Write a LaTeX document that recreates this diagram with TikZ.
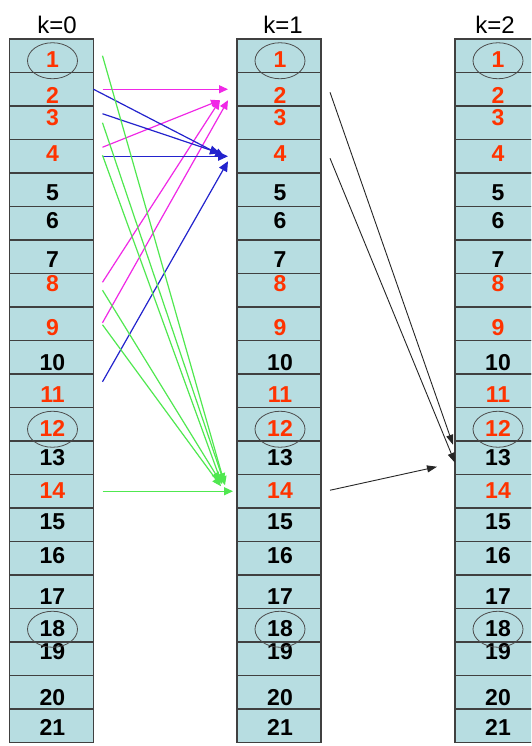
\documentclass[tikz,border=0pt]{standalone}
\usepackage{fontspec}
\setmainfont{Liberation Sans}
\usepackage{xcolor}
\definecolor{celda}{RGB}{183,221,225}
\definecolor{rojo}{RGB}{255,51,0}
\definecolor{rosa}{RGB}{240,40,230}
\definecolor{azulito}{RGB}{35,35,205}
\definecolor{verde}{RGB}{80,232,80}
\usepackage{tikz}
\usetikzlibrary{calc, shapes.geometric, arrows.meta}

\begin{document}
\begin{tikzpicture}[x=1pt, y=-1pt,
  cell/.style={rectangle, draw=black!75, fill=celda, line width=1.6pt, minimum width=84pt, minimum height=33.5pt, inner sep=0pt, outer sep=0pt},
  num/.style={font=\fontsize{23}{27}\selectfont\bfseries, inner sep=0pt},
  head/.style={font=\fontsize{24}{28}\selectfont, inner sep=0pt},
  marca/.style={ellipse, draw=black!70, line width=0.8pt, minimum width=50pt, minimum height=36pt, inner sep=0pt},
  rosaarr/.style={-{Triangle[length=9pt,width=8pt]}, rosa, line width=1.2pt},
  azularr/.style={-{Triangle[length=10pt,width=9pt]}, azulito, line width=1.2pt},
  verdearr/.style={-{Triangle[length=9pt,width=8pt]}, verde, line width=1.2pt},
  negroarr/.style={-{Triangle[length=10pt,width=7pt]}, black!85, line width=0.9pt}
]
  \useasboundingbox (0,0) rectangle (531,746);
  \fill[white] (0,0) rectangle (531,746);
  \clip (0,0) rectangle (531,746);

  \foreach \cc/\x/\hx/\k in {a/51.5/57/0, b/279/283/1, c/497/495/2} {
    \node[head] (\cc k) at (\hx,25) {k=\k};
    \foreach \r in {1,...,21}
      \node[cell] (\cc\r) at (\x, 22.25+33.5*\r) {};
    \foreach \r/\dy/\clr in {1/4/rojo, 2/6/rojo, 3/-5/rojo, 4/-3/rojo, 5/3/black, 6/-3/black, 7/3/black,
        8/-7/rojo, 9/4/rojo, 10/5/black, 11/4/rojo, 12/4/rojo, 13/0/black, 14/-1/rojo, 15/-3/black,
        16/-3/black, 17/5/black, 18/3/black, 19/-7/black, 20/5/black, 21/2/black}
      \node[num, text=\clr] (\cc n\r) at ($(\cc\r)+(1,\dy)$) {\r};
    \foreach \r in {1,12,18}
      \node[marca] (\cc o\r) at ($(\cc n\r)+(0,1)$) {};
  }

  % k=0 -> k=1
  \draw[rosaarr] ($(a2.east)+(9,0)$) -- ($(b2.west)+(-9,0)$);
  \draw[rosaarr] ($(a4.east)+(9,-9)$) -- ($(b2.west)+(-17,11)$);
  \draw[rosaarr] ($(a8.east)+(9,-8)$) -- ($(b2.west)+(-17,11)$);
  \draw[rosaarr] ($(a9.east)+(9,-1)$) -- ($(b2.west)+(-9,11)$);

  \draw[azularr] (a2.east) -- ($(b4.west)+(-12,1)$);
  \draw[azularr] ($(a3.east)+(9,-9)$) -- ($(b4.west)+(-17,-3)$);
  \draw[azularr] ($(a4.east)+(9,0)$) -- ($(b4.west)+(-9,0)$);
  \draw[azularr] ($(a11.east)+(9,-9)$) -- ($(b4.west)+(-9,5)$);

  \draw[verdearr] ($(a1.east)+(9,0)$) -- ($(b14.west)+(-12,-6)$);
  \draw[verdearr] ($(a3.east)+(9,0)$) -- ($(b14.west)+(-13,-9)$);
  \draw[verdearr] ($(a4.east)+(9,-1)$) -- ($(b14.west)+(-15,-7)$);
  \draw[verdearr] ($(a8.east)+(9,0)$) -- ($(b14.west)+(-17,-10)$);
  \draw[verdearr] ($(a9.east)+(9,1)$) -- ($(b14.west)+(-16,-5)$);
  \draw[verdearr] ($(a14.east)+(9,0)$) -- ($(b14.west)+(-4,0)$);

  % k=1 -> k=2
  \draw[negroarr] ($(b2.east)+(9,3)$) -- ($(c13.west)+(-2,-13)$);
  \draw[negroarr] ($(b4.east)+(9,2)$) -- ($(c13.west)+(0,5)$);
  \draw[negroarr] ($(b14.east)+(9,-1)$) -- ($(c13.west)+(-18,9)$);
\end{tikzpicture}
\end{document}
